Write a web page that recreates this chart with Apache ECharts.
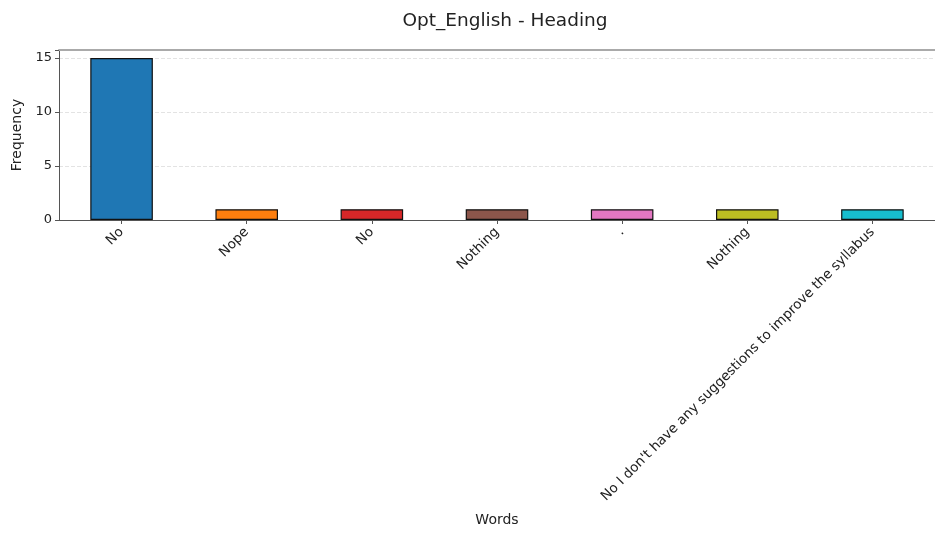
<!DOCTYPE html>
<html>
<head>
<meta charset="utf-8">
<script src="https://cdn.jsdelivr.net/npm/echarts@6/dist/echarts.min.js"></script>
<style>html,body{margin:0;padding:0;background:#fff}#c{width:935px;height:533px}</style>
</head>
<body>
<div id="c"></div>
<script>
var categories = ["No", "Nope", "No", "Nothing", ".", "Nothing", "No I don't have any suggestions to improve the syllabus"];
var frequencies = [15, 1, 1, 1, 1, 1, 1];
var barColors = ["#1f77b4", "#ff7f0e", "#d62728", "#8c564b", "#e377c2", "#bcbd22", "#17becf"];
var yTicks = [0, 5, 10, 15];

var chart = echarts.init(document.getElementById('c'), null, {renderer: 'canvas'});
var font = "DejaVu Sans";
chart.setOption({
  animation: false,
  backgroundColor: '#fff',
  title: {
    text: 'Opt_English - Heading',
    left: 500, top: 7, textAlign: 'center',
    textStyle: {fontFamily: font, fontSize: 18.5, fontWeight: 'normal', color: '#222'}
  },
  grid: {left: 59, top: 50, width: 884, height: 170, containLabel: false},
  xAxis: [{
    type: 'category',
    data: categories,
    position: 'bottom',
    name: 'Words',
    nameLocation: 'middle',
    nameGap: 293,
    nameTextStyle: {fontFamily: font, fontSize: 14, color: '#222'},
    axisLine: {lineStyle: {color: '#555', width: 1}},
    axisTick: {show: true, alignWithLabel: true, length: 4, lineStyle: {color: '#555'}},
    axisLabel: {rotate: 45, margin: 10, fontFamily: font, fontSize: 13.5, color: '#222', interval: 0},
    splitLine: {show: false}
  }, {
    type: 'category',
    data: categories,
    position: 'top',
    axisLine: {lineStyle: {color: '#aaa', width: 2}},
    axisTick: {show: false},
    axisLabel: {show: false}
  }],
  yAxis: {
    type: 'value',
    min: 0, max: 15.75, interval: 5,
    name: 'Frequency',
    nameLocation: 'middle',
    nameGap: 35,
    nameTextStyle: {fontFamily: font, fontSize: 14, color: '#222'},
    axisLine: {show: true, lineStyle: {color: '#555', width: 1}},
    axisTick: {show: true, length: 4, lineStyle: {color: '#555'}},
    axisLabel: {
      fontFamily: font, fontSize: 13, color: '#222', margin: 7,
      formatter: function (v) { return yTicks.indexOf(v) >= 0 ? String(v) : ''; }
    },
    splitLine: {show: true, lineStyle: {color: '#e3e3e3', type: 'dashed', width: 1}}
  },
  series: [{
    type: 'bar',
    xAxisIndex: 0,
    data: frequencies.map(function (v, i) {
      return {value: v, itemStyle: {color: barColors[i]}};
    }),
    barWidth: '50%',
    itemStyle: {borderColor: '#111', borderWidth: 1.2}
  }]
});
</script>
</body>
</html>
